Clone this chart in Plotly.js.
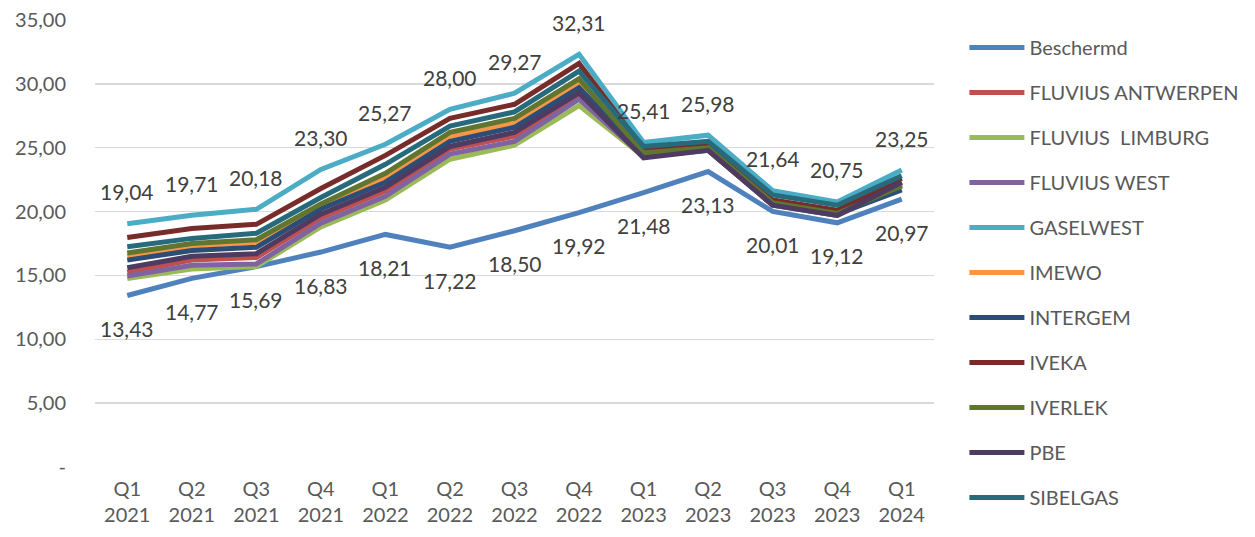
<!DOCTYPE html>
<html>
<head>
<meta charset="utf-8">
<script src="https://cdn.plot.ly/plotly-3.0.1.min.js"></script>
<style>html,body{margin:0;padding:0;background:#fff;}#chart{width:1255px;height:537px;}</style>
</head>
<body>
<div id="chart"></div>
<script>
const quarters = ["Q1","Q2","Q3","Q4","Q1","Q2","Q3","Q4","Q1","Q2","Q3","Q4","Q1"];
const years = ["2021","2021","2021","2021","2022","2022","2022","2022","2023","2023","2023","2023","2024"];

const seriesNames = ["Beschermd","FLUVIUS ANTWERPEN","FLUVIUS  LIMBURG","FLUVIUS WEST","GASELWEST","IMEWO","INTERGEM","IVEKA","IVERLEK","PBE","SIBELGAS"];

const beschermd        = [13.43,14.77,15.69,16.83,18.21,17.22,18.50,19.92,21.48,23.13,20.01,19.12,20.97];
const fluviusAntwerpen = [15.25,16.2,16.4,19.5,21.6,24.9,25.9,29.1,24.5,25.0,20.6,19.8,22.3];
const fluviusLimburg   = [14.75,15.5,15.7,18.8,20.9,24.1,25.2,28.3,24.3,24.8,20.5,19.7,22.0];
const fluviusWest      = [14.95,15.8,15.9,19.1,21.2,24.5,25.5,28.8,24.3,24.8,20.5,19.7,22.1];
const gaselwest        = [19.04,19.71,20.18,23.30,25.27,28.00,29.27,32.31,25.41,25.98,21.64,20.75,23.25];
const imewo            = [16.5,17.3,17.6,20.4,22.7,25.9,26.9,30.0,24.7,25.0,20.7,19.9,22.2];
const intergem         = [16.2,16.95,17.2,20.2,22.3,25.5,26.6,29.7,24.4,24.9,20.6,19.8,21.7];
const iveka            = [17.97,18.67,19.0,21.8,24.4,27.3,28.4,31.6,24.9,25.2,20.9,20.1,22.6];
const iverlek          = [16.75,17.5,17.8,20.6,23.0,26.2,27.3,30.4,24.6,25.0,20.7,19.85,22.0];
const pbe              = [15.6,16.5,16.7,19.8,21.9,25.1,26.2,29.3,24.2,24.8,20.5,19.7,22.3];
const sibelgas         = [17.25,17.9,18.3,21.1,23.7,26.7,27.8,31.0,25.1,25.5,21.3,20.5,22.8];

const seriesValues = [beschermd,fluviusAntwerpen,fluviusLimburg,fluviusWest,gaselwest,imewo,intergem,iveka,iverlek,pbe,sibelgas];
const colors = ["#4F81BD","#C0504D","#9BBB59","#8064A2","#4BACC6","#F79646","#2C4D75","#772C2A","#5F7530","#4D3B62","#276A7C"];

const yTickVals = [0,5,10,15,20,25,30,35];
const yTickText = ["-","5,00","10,00","15,00","20,00","25,00","30,00","35,00"];

const categories = quarters.map((q,i)=>q+"<br>"+years[i]);
const fmt = v => v.toFixed(2).replace(".", ",");
const FONT = "Lato, 'Open Sans', sans-serif";

const traces = seriesNames.map((name,i)=>({
  type:"scatter", mode:"lines", name:name, x:categories, y:seriesValues[i],
  line:{color:colors[i], width:5}, legendgroup:"g"+i, hoverinfo:"skip"
}));

const annotations = [];
categories.forEach((c,i)=>{
  annotations.push({x:c, y:beschermd[i], xref:"x", yref:"y", text:fmt(beschermd[i]), showarrow:false, yshift:-33, font:{family:FONT,size:21,color:"#404040"}});
  annotations.push({x:c, y:gaselwest[i], xref:"x", yref:"y", text:fmt(gaselwest[i]), showarrow:false, yshift:32, font:{family:FONT,size:21,color:"#404040"}});
});

const layout = {
  width:1255, height:537,
  margin:{l:95, r:320, t:20, b:70},
  paper_bgcolor:"#fff", plot_bgcolor:"#fff",
  font:{family:FONT, size:18, color:"#595959"},
  showlegend:true,
  legend:{x:1.035, xanchor:"left", y:0.982, yanchor:"top", traceorder:"grouped", tracegroupgap:16, itemwidth:55, maxheight:2000, font:{family:FONT,size:20,color:"#595959"}},
  xaxis:{type:"category", range:[-0.5,12.5], showgrid:false, zeroline:false, showline:false, ticks:"", tickfont:{family:FONT,size:20,color:"#595959"}, ticklabelstandoff:8},
  yaxis:{range:[0,35], tickvals:yTickVals, ticktext:yTickText, showgrid:true, gridcolor:"#d9d9d9", gridwidth:1.5, zeroline:false, showline:false, ticks:"", ticklabelstandoff:28, tickfont:{family:FONT,size:20,color:"#595959"}},
  annotations:annotations
};

Plotly.newPlot("chart", traces, layout, {displayModeBar:false, staticPlot:true});
</script>
</body>
</html>
